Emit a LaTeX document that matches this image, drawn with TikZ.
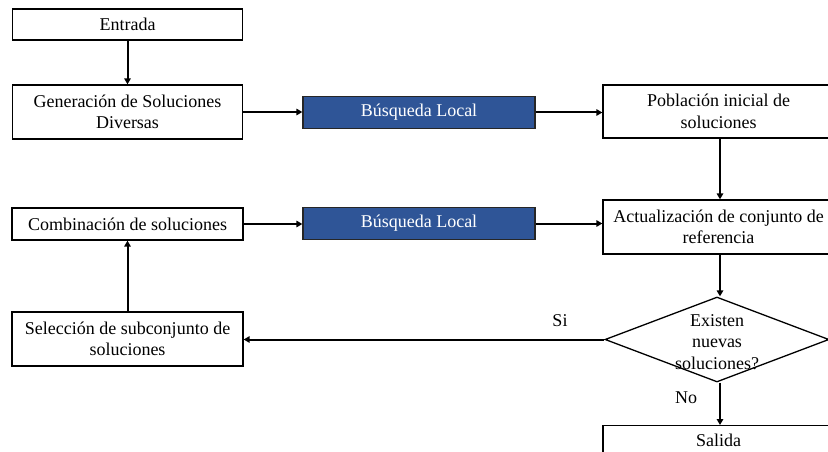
\documentclass[tikz,border=0pt]{standalone}
\usepackage{fontspec}
\setmainfont{Liberation Serif}
\usetikzlibrary{shapes.geometric,arrows.meta}
\definecolor{blbox}{HTML}{2F5597}
\begin{document}
\begin{tikzpicture}[x=1pt,y=-1pt,
  box/.style={draw=black,line width=1.3pt,fill=white,align=center,inner sep=0pt,
    font=\fontsize{18}{21.5}\selectfont},
  blue/.style={box,fill=blbox,text=white,draw=black!85},
  arr/.style={line width=2pt,-{Triangle[length=6pt,width=6.5pt]}},
  lbl/.style={font=\fontsize{18}{21.5}\selectfont,inner sep=0pt}]
\useasboundingbox (0,0) rectangle (828,452);
\clip (0,0) rectangle (828,452);
\node[box,minimum width=230pt,minimum height=31pt] (entrada) at (127.5,24.5) {Entrada};
\node[box,minimum width=230pt,minimum height=54pt] (gen) at (127.5,112) {Generación de Soluciones\\Diversas};
\node[blue,minimum width=232pt,minimum height=32pt] (bl1) at (419,112.5) {Búsqueda Local};
\node[box,minimum width=231pt,minimum height=53pt] (pob) at (718.5,111.5) {Población inicial de\\soluciones};
\node[box,minimum width=231pt,minimum height=32pt] (comb) at (127.5,224) {Combinación de soluciones};
\node[blue,minimum width=232pt,minimum height=32pt] (bl2) at (419,223.5) {Búsqueda Local};
\node[box,minimum width=231pt,minimum height=54pt] (act) at (718.5,227) {Actualización de conjunto de\\referencia};
\node[box,minimum width=231pt,minimum height=54pt] (sel) at (127.5,339) {Selección de subconjunto de\\soluciones};
\node[diamond,draw=black,line width=1.3pt,fill=white,minimum width=224pt,minimum height=85pt,inner sep=0pt] (dia) at (717,339.5) {};
\node[lbl,align=center] (diat) at (717,342) {Existen\\nuevas\\soluciones?};
\node[box,minimum width=231pt,minimum height=40pt,anchor=north] (sal) at (718.5,425) {};
\node[lbl] (saltxt) at (718.5,440) {Salida};
\draw[arr] (entrada) -- (gen);
\draw[arr] (gen.east) -- (bl1.west |- gen.east);
\draw[arr] (bl1.east) -- (pob.west |- bl1.east);
\draw[arr] (pob.south -| 720,0) -- (act.north -| 720,0);
\draw[arr] (comb.east) -- (bl2.west |- comb.east);
\draw[arr] (bl2.east) -- (act.west |- bl2.east);
\draw[arr] (act.south -| 720,0) -- (dia.north -| 720,0);
\draw[arr] (dia.west) -- (sel.east |- dia.west);
\draw[arr] (sel) -- (comb);
\draw[arr] (dia.south -| 720,0) -- (sal.north -| 720,0);
\node[lbl] (si) at (560,321) {Si};
\node[lbl] (no) at (686,398) {No};
\end{tikzpicture}
\end{document}
